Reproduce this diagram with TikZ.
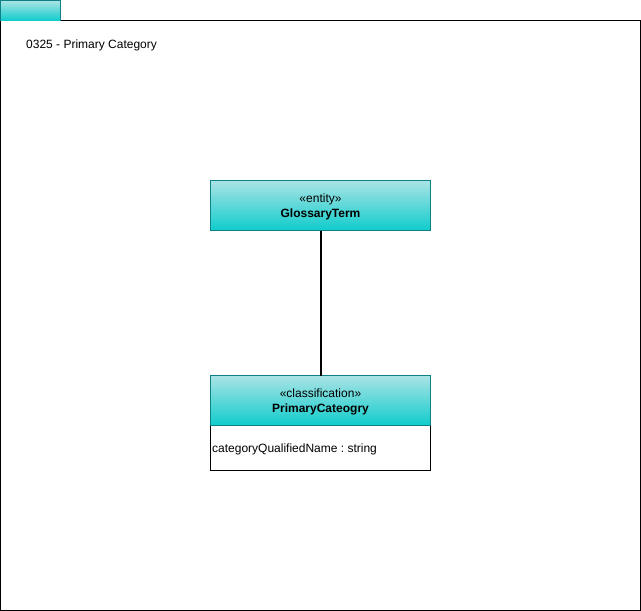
\documentclass[tikz,border=0pt]{standalone}
\usepackage{fontspec}
\setmainfont{Liberation Sans}
\frenchspacing
\definecolor{topc}{RGB}{170,227,229}
\definecolor{botc}{RGB}{16,204,204}
\definecolor{strk}{RGB}{14,128,136}
\begin{document}
\begin{tikzpicture}[x=1pt,y=-1pt,
  plain/.style={draw=black, line width=0.8pt, fill=white},
  lbl/.style={font=\fontsize{12}{15}\selectfont, align=center, text=black},
  link/.style={draw=black, line width=2pt}]
\useasboundingbox (0,0) rectangle (641,611);
% frame
\draw[draw=black, line width=0.8pt, fill=white] (0.5,20.5) rectangle (640.5,610.5);
\shade[top color=topc, bottom color=botc] (0.5,0.5) rectangle (60.5,20.5);
\draw[draw=strk, line width=0.8pt] (0.5,20.5) -- (0.5,0.5) -- (60.5,0.5) -- (60.5,20.5);
\node[lbl, anchor=west, inner sep=0pt] (title) at (26,45) {0325 - Primary Category};
% GlossaryTerm
\shade[top color=topc, bottom color=botc] (210.5,180.5) rectangle (430.5,230.5);
\draw[draw=strk, line width=0.8pt] (210.5,180.5) rectangle (430.5,230.5);
\coordinate (gtb) at (320.5,230.5);
\node[lbl] (gt) at (320.5,206.5) {«entity»\\\textbf{GlossaryTerm}};
% PrimaryCateogry
\draw[plain] (210.5,425.5) rectangle (430.5,470.5);
\shade[top color=topc, bottom color=botc] (210.5,375.5) rectangle (430.5,425.5);
\draw[draw=strk, line width=0.8pt] (210.5,375.5) rectangle (430.5,425.5);
\draw[draw=black, line width=0.8pt] (210.5,425.5) -- (210.5,470.5) -- (430.5,470.5) -- (430.5,425.5);
\coordinate (pct) at (320.5,375.5);
\node[lbl] (pc) at (320.5,401.5) {«classification»\\\textbf{PrimaryCateogry}};
\node[lbl, anchor=west, inner sep=0pt] (attr) at (212,449.5) {categoryQualifiedName : string};
% connector
\draw[link] (gtb) -- (pct);
\end{tikzpicture}
\end{document}
